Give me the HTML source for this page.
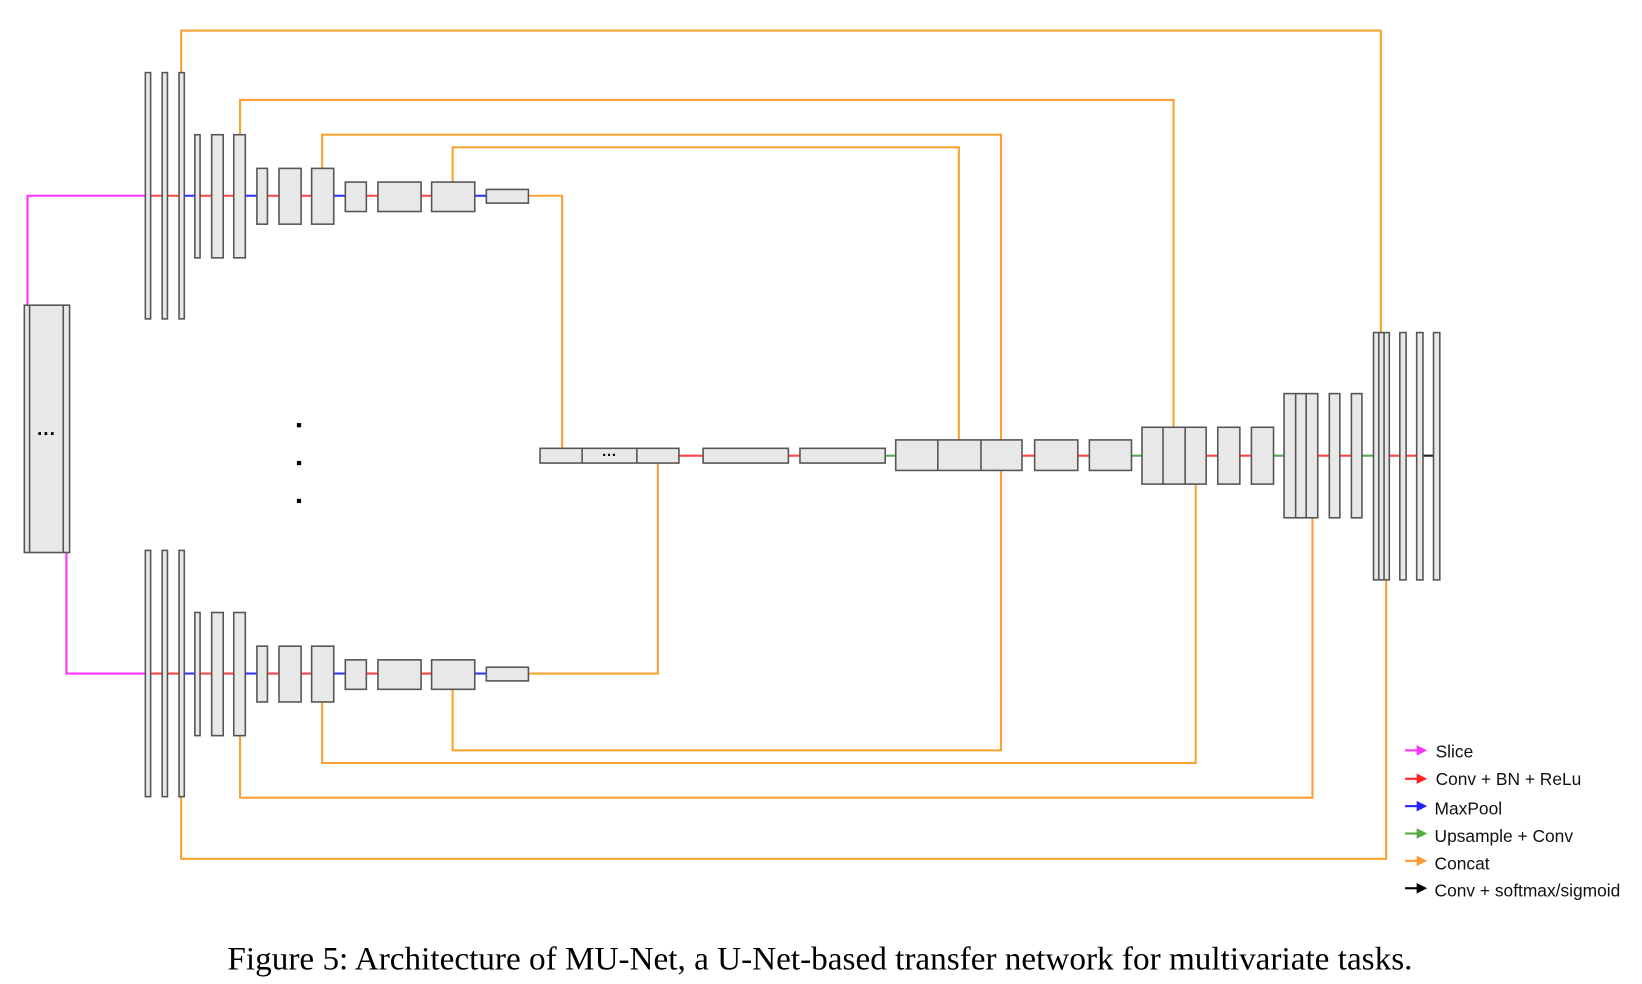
<!DOCTYPE html>
<html><head><meta charset="utf-8"><style>html,body{margin:0;padding:0;background:#fff}svg{display:block}</style></head><body>
<svg width="1642" height="984" viewBox="0 0 1560 935" xmlns="http://www.w3.org/2000/svg">
<defs>
<g id="enc">
<g stroke-width="2">
<line x1="143" y1="186" x2="175" y2="186" stroke="#f44"/>
<line x1="175" y1="186" x2="185" y2="186" stroke="#33f"/>
<line x1="190" y1="186" x2="222" y2="186" stroke="#f44"/>
<line x1="233" y1="186" x2="244" y2="186" stroke="#33f"/>
<line x1="254" y1="186" x2="296" y2="186" stroke="#f44"/>
<line x1="317" y1="186" x2="328" y2="186" stroke="#33f"/>
<line x1="348" y1="186" x2="410" y2="186" stroke="#f44"/>
<line x1="451" y1="186" x2="462" y2="186" stroke="#33f"/>
</g>
<g fill="#e8e8e8" stroke="#555" stroke-width="1.5">
<rect x="138" y="69" width="5" height="234"/><rect x="154" y="69" width="5" height="234"/><rect x="170" y="69" width="5" height="234"/>
<rect x="185" y="128" width="5" height="117"/><rect x="201" y="128" width="11" height="117"/><rect x="222" y="128" width="11" height="117"/>
<rect x="244" y="160" width="10" height="53"/><rect x="265" y="160" width="21" height="53"/><rect x="296" y="160" width="21" height="53"/>
<rect x="328" y="173" width="20" height="28"/><rect x="359" y="173" width="41" height="28"/><rect x="410" y="173" width="41" height="28"/>
<rect x="462" y="180" width="40" height="13"/>
</g>
</g>
</defs>
<g fill="none" stroke="#f9a233" stroke-width="2">
<polyline points="172,69 172,29 1312,29 1312,316"/>
<polyline points="228,128 228,95 1115,95 1115,406"/>
<polyline points="306,160 306,128 951,128 951,418"/>
<polyline points="430,173 430,140 911,140 911,418"/>
<polyline points="502,186 534,186 534,426"/>
<polyline points="502,640 625,640 625,440"/>
<polyline points="430,655 430,713 951,713 951,447"/>
<polyline points="306,667 306,725 1136,725 1136,460"/>
<polyline points="228,699 228,758 1247,758 1247,492"/>
<polyline points="172,757 172,816 1317,816 1317,551"/>
</g>
<g fill="none" stroke="#ff33ff" stroke-width="2">
<polyline points="26,290 26,186 138,186"/>
<polyline points="63,525 63,640 138,640"/>
</g>
<use href="#enc"/>
<use href="#enc" transform="translate(0,454)"/>
<g fill="#e8e8e8" stroke="#555" stroke-width="1.5">
<rect x="23" y="290" width="43" height="235"/>
<line x1="28" y1="290" x2="28" y2="525"/><line x1="60" y1="290" x2="60" y2="525"/>
</g>
<text x="44" y="418" font-family="Liberation Sans,sans-serif" font-size="18" font-weight="bold" text-anchor="middle">···</text>
<g fill="#000"><rect x="282" y="402" width="4" height="4"/><rect x="282" y="438" width="4" height="4"/><rect x="282" y="474" width="4" height="4"/></g>
<g stroke-width="2">
<line x1="645" y1="433" x2="668" y2="433" stroke="#f44"/>
<line x1="749" y1="433" x2="760" y2="433" stroke="#f44"/>
<line x1="841" y1="433" x2="851" y2="433" stroke="#5a5"/>
<line x1="971" y1="433" x2="983" y2="433" stroke="#f44"/>
<line x1="1024" y1="433" x2="1035" y2="433" stroke="#f44"/>
<line x1="1075" y1="433" x2="1085" y2="433" stroke="#5a5"/>
<line x1="1146" y1="433" x2="1157" y2="433" stroke="#f44"/>
<line x1="1178" y1="433" x2="1189" y2="433" stroke="#f44"/>
<line x1="1210" y1="433" x2="1220" y2="433" stroke="#5a5"/>
<line x1="1252" y1="433" x2="1263" y2="433" stroke="#f44"/>
<line x1="1273" y1="433" x2="1284" y2="433" stroke="#f44"/>
<line x1="1294" y1="433" x2="1305" y2="433" stroke="#5a5"/>
<line x1="1320" y1="433" x2="1330" y2="433" stroke="#f44"/>
<line x1="1336" y1="433" x2="1346" y2="433" stroke="#f44"/>
<line x1="1352" y1="433" x2="1362" y2="433" stroke="#222"/>
</g>
<g fill="#e8e8e8" stroke="#555" stroke-width="1.5">
<rect x="513" y="426" width="132" height="14"/><line x1="553" y1="426" x2="553" y2="440"/><line x1="605" y1="426" x2="605" y2="440"/>
<rect x="668" y="426" width="81" height="14"/><rect x="760" y="426" width="81" height="14"/>
<rect x="851" y="418" width="120" height="29"/><line x1="891" y1="418" x2="891" y2="447"/><line x1="932" y1="418" x2="932" y2="447"/>
<rect x="983" y="418" width="41" height="29"/><rect x="1035" y="418" width="40" height="29"/>
<rect x="1085" y="406" width="61" height="54"/><line x1="1105" y1="406" x2="1105" y2="460"/><line x1="1126" y1="406" x2="1126" y2="460"/>
<rect x="1157" y="406" width="21" height="54"/><rect x="1189" y="406" width="21" height="54"/>
<rect x="1220" y="374" width="32" height="118"/><line x1="1231" y1="374" x2="1231" y2="492"/><line x1="1241" y1="374" x2="1241" y2="492"/>
<rect x="1263" y="374" width="10" height="118"/><rect x="1284" y="374" width="10" height="118"/>
<rect x="1305" y="316" width="15" height="235"/><line x1="1310" y1="316" x2="1310" y2="551"/><line x1="1315" y1="316" x2="1315" y2="551"/>
<rect x="1330" y="316" width="6" height="235"/><rect x="1346" y="316" width="6" height="235"/><rect x="1362" y="316" width="6" height="235"/>
</g>
<text x="579" y="437" font-family="Liberation Sans,sans-serif" font-size="14" font-weight="bold" text-anchor="middle">···</text>
<g stroke-width="2">
<line x1="1335" y1="713" x2="1348" y2="713" stroke="#f3f"/><polygon points="1346,708 1356,713 1346,718" fill="#f3f"/>
<line x1="1335" y1="740" x2="1348" y2="740" stroke="#f22"/><polygon points="1346,735 1356,740 1346,745" fill="#f22"/>
<line x1="1335" y1="766" x2="1348" y2="766" stroke="#22f"/><polygon points="1346,761 1356,766 1346,771" fill="#22f"/>
<line x1="1335" y1="792" x2="1348" y2="792" stroke="#5a4"/><polygon points="1346,787 1356,792 1346,797" fill="#5a4"/>
<line x1="1335" y1="818" x2="1348" y2="818" stroke="#f93"/><polygon points="1346,813 1356,818 1346,823" fill="#f93"/>
<line x1="1335" y1="844" x2="1348" y2="844" stroke="#000"/><polygon points="1346,839 1356,844 1346,849" fill="#000"/>
</g>
<g font-family="Liberation Sans,sans-serif" font-size="16.5" fill="#111">
<text x="1364" y="720">Slice</text>
<text x="1364" y="746">Conv + BN + ReLu</text>
<text x="1363" y="774">MaxPool</text>
<text x="1363" y="800">Upsample + Conv</text>
<text x="1363" y="826">Concat</text>
<text x="1363" y="852">Conv + softmax/sigmoid</text>
</g>
<text x="779" y="921" font-family="Liberation Serif,serif" font-size="31" text-anchor="middle" fill="#000" textLength="1126" lengthAdjust="spacingAndGlyphs">Figure 5: Architecture of MU-Net, a U-Net-based transfer network for multivariate tasks.</text>
</svg>
</body></html>
